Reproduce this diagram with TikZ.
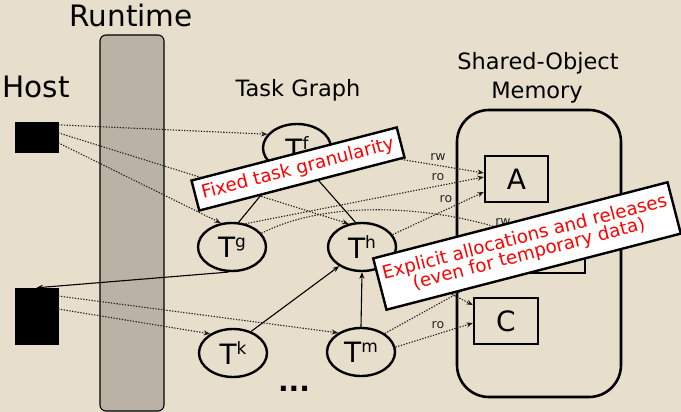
\documentclass[tikz,border=0pt]{standalone}
\usepackage{fontspec}
\setmainfont{DejaVu Sans}
\usetikzlibrary{shapes.geometric,arrows.meta,calc}

\definecolor{paper}{RGB}{231,222,203}
\definecolor{barfill}{RGB}{186,179,165}
\definecolor{dotcol}{RGB}{30,30,30}

\newcommand\fsz[1]{\fontsize{#1}{#1}\selectfont}
\newcommand\tsk[1]{T\raisebox{10pt}{\fsz{17}#1}}

\tikzset{
  title/.style={anchor=base, inner sep=0pt, font=\fsz{22.5}},
  bigtitle/.style={anchor=base, inner sep=0pt, font=\fsz{29.5}},
  task/.style={draw, ellipse, line width=2.4pt, inner sep=0pt,
    minimum width=68pt, minimum height=48pt, font=\fsz{28}},
  hostbox/.style={fill=black, draw=black, inner sep=0pt},
  objbox/.style={draw, line width=2.2pt, fill=paper, inner sep=0pt,
    minimum width=63pt, minimum height=46pt, font=\fsz{28}},
  acc/.style={inner sep=0pt, font=\fsz{12.5}, text=black!85},
  dep/.style={dotcol, line width=1.1pt, dash pattern=on 1.3pt off 1.5pt,
    -{Stealth[length=6.5pt,width=5pt]}},
  flow/.style={black, line width=1.1pt, -{Stealth[length=6.5pt,width=5pt]}},
  note/.style={draw, line width=2.4pt, fill=white, text=red, inner sep=0pt,
    align=center, font=\fsz{18.3}}
}

\begin{document}
\begin{tikzpicture}[x=1pt,y=-1pt]
\useasboundingbox (0,0) rectangle (681,412);
\fill[paper] (0,0) rectangle (681,412);

% runtime column
\draw[fill=barfill, line width=1.1pt, rounded corners=6pt] (100,35) rectangle (164,411);
\node[bigtitle] (rtl) at (131,27) {Runtime};

% host
\node[bigtitle] (hostl) at (36,98) {Host};
\node[hostbox, minimum width=43pt, minimum height=30pt] (h1) at (36.5,137) {};
\node[hostbox, minimum width=43pt, minimum height=56pt] (h2) at (36.5,316) {};

% shared-object memory
\node[title] (sol) at (538,70) {Shared-Object};
\node[title] (meml) at (537,99) {Memory};
\draw[line width=2.6pt, rounded corners=32pt] (457,110) rectangle (621,397);
\node[objbox] (A) at (516.5,179) {A};
\node[objbox, minimum width=64pt] (B) at (553,250) {};
\node[objbox, minimum width=64pt] (C) at (506,321) {C};

% task graph
\node[title] (tgl) at (298,97) {Task Graph};
\node[task] (tf) at (297,148) {\tsk{f}};
\node[task] (tg) at (232,247) {\tsk{g}};
\node[task] (th) at (362,247) {\tsk{h}};
\node[task] (tk) at (233,353) {\tsk{k}};
\node[task] (tm) at (361,352) {\tsk{m}};
\node[inner sep=0pt, font=\fsz{28}\bfseries] (more) at (294,389) {...};

% task dependencies
\draw[flow] (tg.75) -- (tf.235);
\draw[flow] (th.105) -- (tf.300);
\draw[flow] (tk.50) -- (th.220);
\draw[flow] (tm.north) -- (th.south);
\draw[flow] (tg.262) -- (h2.north);

% host launches
\draw[dep] ($(h1.north east)+(0,3)$) -- (tf.155);
\draw[dep] ($(h1.north east)+(0,11)$) -- (th.120);
\draw[dep] ($(h1.north east)+(0,21)$) -- (tg.115);
\draw[dep] ($(h2.east)+(0,-20)$) -- (tm.140);
\draw[dep] ($(h2.east)+(0,-7)$) -- (tk.140);

% object accesses
\draw[dep] (tf.east) -- ($(A.west)+(0,-6)$);
\draw[dep] (tg.60) -- ($(A.west)+(0,-2)$);
\draw[dep] (th.22) -- ($(A.west)+(0,13)$);
\draw[dep] (tg.25) .. controls (330,198) and (440,206) .. ($(B.west)+(0,-15)$);
\draw[dep] (tm.38) -- ($(B.west)+(0,9)$);
\draw[dep] (th.-30) -- ($(C.west)+(0,-16)$);
\draw[dep] (tm.8) -- ($(C.west)+(0,2)$);

\node[acc] (l1) at (438,157) {rw};
\node[acc] (l2) at (438,177) {ro};
\node[acc] (l3) at (446,199) {ro};
\node[acc] (l4) at (503,222) {rw};
\node[acc] (l5) at (438,325) {ro};

% remarks
\node[note, rotate=14.5, minimum width=212pt, minimum height=31pt] (n1) at (298,169)
  {Fixed task granularity};
\node[note, rotate=14.5, minimum width=304pt, minimum height=53pt] (n2) at (527,246)
  {Explicit allocations and releases\\[-1pt](even for temporary data)};
\end{tikzpicture}
\end{document}
